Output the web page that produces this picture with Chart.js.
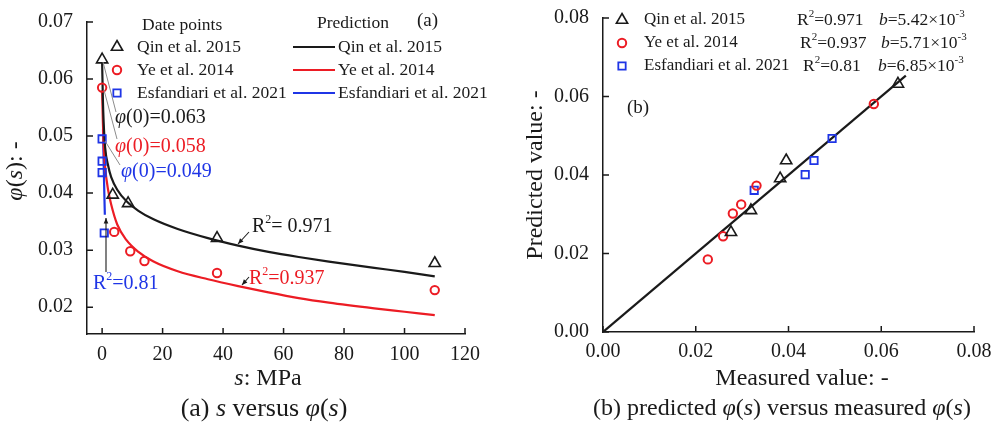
<!DOCTYPE html>
<html>
<head>
<meta charset="utf-8">
<script src="https://cdn.jsdelivr.net/npm/chart.js@4.4.1/dist/chart.umd.min.js"></script>
<style>
  html, body { margin: 0; padding: 0; background: #fff; }
  #wrap { position: relative; width: 992px; height: 423px; overflow: hidden; }
  canvas { position: absolute; top: 0; }
</style>
</head>
<body>
<div id="wrap">
  <canvas id="chartA" width="496" height="423" style="left:0"></canvas>
  <canvas id="chartB" width="496" height="423" style="left:496px"></canvas>
</div>
<script>
const SERIF = "'Liberation Serif', 'Times New Roman', serif";
const INK = "#1a1a1a";
const RED = "#ec1c24";
const BLUE = "#1f35e6";
const GRAY = "#8c8c8c";

const seriesNames = ["Qin et al. 2015", "Ye et al. 2014", "Esfandiari et al. 2021"];
const r2Labels = ["0.971", "0.937", "0.81"];
const bLabels = ["5.42", "5.71", "6.85"];

// (a) s versus phi(s)
const sTicks = [0, 20, 40, 60, 80, 100, 120];
const phiTicks = [0.02, 0.03, 0.04, 0.05, 0.06, 0.07];

const qinS = [0, 3.5, 8.6, 38, 110];
const qinPhi = [0.0634, 0.0397, 0.0382, 0.0321, 0.0277];
const yeS = [0, 4, 9.3, 14, 38, 110];
const yePhi = [0.0585, 0.0332, 0.0298, 0.0281, 0.026, 0.023];
const esS = [0, 0, 0, 0.7];
const esPhi = [0.0495, 0.0456, 0.0436, 0.033];

const predS = [0, 0.25, 0.5, 1, 2, 3, 5, 8, 12, 17, 25, 35, 45, 55, 65, 75, 90, 100, 110];
const qinPred = [0.063, 0.0565, 0.0525, 0.048, 0.0448, 0.0428, 0.0406, 0.0386, 0.0369, 0.0354, 0.0337, 0.0321, 0.0308, 0.0297, 0.0288, 0.028, 0.0269, 0.0262, 0.0254];
const yePred = [0.058, 0.0525, 0.0485, 0.0445, 0.0405, 0.038, 0.0345, 0.0318, 0.0297, 0.028, 0.0263, 0.0249, 0.0237, 0.0226, 0.0216, 0.0208, 0.0198, 0.0192, 0.0186];
const esPredS = [0.3, 0.45, 0.6, 0.75, 0.9];
const esPred = [0.0513, 0.047, 0.043, 0.0395, 0.0362];

// (b) predicted vs measured
const fracTicks = [0, 0.02, 0.04, 0.06, 0.08];
const qinMeas = [0.0636, 0.0395, 0.0382, 0.0319, 0.0276];
const qinPredB = [0.0632, 0.0437, 0.0391, 0.031, 0.0254];
const yeMeas = [0.0584, 0.0331, 0.0298, 0.028, 0.0259, 0.0226];
const yePredB = [0.0581, 0.0373, 0.0325, 0.0302, 0.0244, 0.0185];
const esMeas = [0.0494, 0.0455, 0.0436, 0.0326];
const esPredB = [0.0493, 0.0437, 0.0401, 0.0361];
const fitMeas = [0, 0.0653];
const fitPred = [0, 0.0653];

const pts = (xs, ys) => xs.map((x, i) => ({ x, y: ys[i] }));

const markerStyle = {
  triangle: { pointStyle: "triangle", pointRadius: 6.5, pointBorderColor: INK, pointBorderWidth: 1.6 },
  circle: { pointStyle: "circle", pointRadius: 4.2, pointBorderColor: RED, pointBorderWidth: 2 },
  rect: { pointStyle: "rect", pointRadius: 5.2, pointBorderColor: BLUE, pointBorderWidth: 1.8 },
};

function scatterSet(data, kind) {
  return { data, showLine: false, pointBackgroundColor: "rgba(0,0,0,0)", clip: false, ...markerStyle[kind] };
}

function lineSet(data, color) {
  return {
    data, showLine: true, pointRadius: 0, borderColor: color, borderWidth: 2.2,
    cubicInterpolationMode: "monotone", fill: false,
  };
}

function axisOptions(min, max, tickValues, decimals, padding, size) {
  return {
    type: "linear", min, max,
    grid: { display: false },
    border: { display: true, color: INK, width: 1.5 },
    ticks: {
      color: INK, padding, maxRotation: 0, autoSkip: false,
      font: { family: SERIF, size: 20 },
      callback: (v) => Number(v).toFixed(decimals),
    },
    afterBuildTicks: (scale) => { scale.ticks = tickValues.map((value) => ({ value })); },
    afterFit: (scale) => {
      if (scale.isHorizontal()) scale.height = size;
      else scale.width = size;
    },
  };
}

// text with italic / superscript runs
function drawRuns(ctx, parts, x, y, size, color, align = "left") {
  const fontFor = (st) => `${st === "i" ? "italic " : ""}${st === "sup" ? Math.round(size * 0.62) : size}px ${SERIF}`;
  let w = 0;
  parts.forEach(([t, st]) => { ctx.font = fontFor(st); w += ctx.measureText(t).width; });
  let cx = align === "center" ? x - w / 2 : x;
  ctx.fillStyle = color;
  ctx.textAlign = "left";
  ctx.textBaseline = "middle";
  parts.forEach(([t, st]) => {
    ctx.font = fontFor(st);
    ctx.fillText(t, cx, st === "sup" ? y - size * 0.36 : y);
    cx += ctx.measureText(t).width;
  });
}

function drawMarker(ctx, kind, x, y) {
  const st = markerStyle[kind];
  const r = st.pointRadius;
  ctx.save();
  ctx.beginPath();
  if (kind === "triangle") {
    ctx.moveTo(x, y - r);
    ctx.lineTo(x + r * 0.866, y + r / 2);
    ctx.lineTo(x - r * 0.866, y + r / 2);
    ctx.closePath();
  } else if (kind === "circle") {
    ctx.arc(x, y, r, 0, Math.PI * 2);
  } else {
    const h = r * Math.SQRT1_2;
    ctx.rect(x - h, y - h, 2 * h, 2 * h);
  }
  ctx.strokeStyle = st.pointBorderColor;
  ctx.lineWidth = st.pointBorderWidth;
  ctx.stroke();
  ctx.restore();
}

function line(ctx, x1, y1, x2, y2, color, width) {
  ctx.save();
  ctx.beginPath();
  ctx.moveTo(x1, y1);
  ctx.lineTo(x2, y2);
  ctx.strokeStyle = color;
  ctx.lineWidth = width;
  ctx.stroke();
  ctx.restore();
}

function arrow(ctx, x1, y1, x2, y2) {
  line(ctx, x1, y1, x2, y2, INK, 1.1);
  const a = Math.atan2(y2 - y1, x2 - x1);
  ctx.save();
  ctx.beginPath();
  ctx.moveTo(x2, y2);
  ctx.lineTo(x2 - 6 * Math.cos(a - 0.4), y2 - 6 * Math.sin(a - 0.4));
  ctx.lineTo(x2 - 6 * Math.cos(a + 0.4), y2 - 6 * Math.sin(a + 0.4));
  ctx.closePath();
  ctx.fillStyle = INK;
  ctx.fill();
  ctx.restore();
}

const innerTicks = {
  id: "innerTicks",
  afterDatasetsDraw(chart) {
    const { ctx, chartArea: a, scales: { x, y } } = chart;
    ctx.save();
    ctx.strokeStyle = INK;
    ctx.lineWidth = 1.5;
    ctx.beginPath();
    x.ticks.forEach((t) => { const px = x.getPixelForValue(t.value); ctx.moveTo(px, a.bottom); ctx.lineTo(px, a.bottom - 6); });
    y.ticks.forEach((t) => { const py = y.getPixelForValue(t.value); ctx.moveTo(a.left, py); ctx.lineTo(a.left + 6, py); });
    ctx.stroke();
    ctx.restore();
  },
};

const kinds = ["triangle", "circle", "rect"];
const lineColors = [INK, RED, BLUE];

const panelA = {
  id: "panelA",
  afterDraw(chart) {
    const ctx = chart.ctx;
    // legend
    drawRuns(ctx, [["Date points", ""]], 142, 25, 17.5, INK);
    drawRuns(ctx, [["Prediction", ""]], 317, 23, 17.5, INK);
    drawRuns(ctx, [["(a)", ""]], 417, 21, 19, INK);
    [47, 70, 93].forEach((ry, i) => {
      drawMarker(ctx, kinds[i], 117, ry);
      drawRuns(ctx, [[seriesNames[i], ""]], 137, ry, 17.5, INK);
      line(ctx, 293, ry, 335, ry, lineColors[i], 2.2);
      drawRuns(ctx, [[seriesNames[i], ""]], 338, ry, 17.5, INK);
    });
    // phi(0) leaders
    line(ctx, 103, 62, 116, 112, GRAY, 1);
    line(ctx, 104, 90, 117, 139, GRAY, 1);
    line(ctx, 105, 141, 120, 165, GRAY, 1);
    drawRuns(ctx, [["φ", "i"], ["(0)=0.063", ""]], 115, 118, 20, INK);
    drawRuns(ctx, [["φ", "i"], ["(0)=0.058", ""]], 115, 147, 20, RED);
    drawRuns(ctx, [["φ", "i"], ["(0)=0.049", ""]], 121, 172, 20, BLUE);
    // R2 notes
    arrow(ctx, 249, 232, 238, 244);
    drawRuns(ctx, [["R", ""], ["2", "sup"], ["= 0.971", ""]], 252, 227, 20, INK);
    arrow(ctx, 249, 277, 242, 285);
    drawRuns(ctx, [["R", ""], ["2", "sup"], ["=0.937", ""]], 249, 279, 20, RED);
    arrow(ctx, 106, 272, 106, 218);
    drawRuns(ctx, [["R", ""], ["2", "sup"], ["=0.81", ""]], 93, 284, 20, BLUE);
    // axis titles and caption
    ctx.save();
    ctx.translate(16, 171);
    ctx.rotate(-Math.PI / 2);
    drawRuns(ctx, [["φ", "i"], ["(", ""], ["s", "i"], ["): -", ""]], 0, 0, 24, INK, "center");
    ctx.restore();
    drawRuns(ctx, [["s", "i"], [": MPa", ""]], 268, 379, 24, INK, "center");
    drawRuns(ctx, [["(a) ", ""], ["s", "i"], [" versus ", ""], ["φ", "i"], ["(", ""], ["s", "i"], [")", ""]], 264, 409, 26, INK, "center");
  },
};

const panelB = {
  id: "panelB",
  afterDraw(chart) {
    const ctx = chart.ctx;
    const r2x = [301, 304, 307];
    const bx = [383, 385, 382];
    [20, 43, 66].forEach((ry, i) => {
      drawMarker(ctx, kinds[i], 126, ry);
      drawRuns(ctx, [[seriesNames[i], ""]], 148, ry, 17, INK);
      drawRuns(ctx, [["R", ""], ["2", "sup"], ["=" + r2Labels[i], ""]], r2x[i], ry, 17.5, INK);
      drawRuns(ctx, [["b", "i"], ["=" + bLabels[i] + "×10", ""], ["-3", "sup"]], bx[i], ry, 17.5, INK);
    });
    drawRuns(ctx, [["(b)", ""]], 131, 108, 19, INK);
    ctx.save();
    ctx.translate(40, 175);
    ctx.rotate(-Math.PI / 2);
    drawRuns(ctx, [["Predicted value: -", ""]], 0, 0, 24, INK, "center");
    ctx.restore();
    drawRuns(ctx, [["Measured value: -", ""]], 306, 379, 24, INK, "center");
    drawRuns(ctx, [["(b) predicted ", ""], ["φ", "i"], ["(", ""], ["s", "i"], [") versus measured ", ""], ["φ", "i"], ["(", ""], ["s", "i"], [")", ""]], 286, 409, 24, INK, "center");
  },
};

const common = {
  responsive: false,
  animation: false,
  devicePixelRatio: 1,
  events: [],
  plugins: { legend: { display: false }, tooltip: { enabled: false } },
};

new Chart(document.getElementById("chartA"), {
  type: "scatter",
  data: {
    datasets: [
      scatterSet(pts(qinS, qinPhi), "triangle"),
      scatterSet(pts(yeS, yePhi), "circle"),
      scatterSet(pts(esS, esPhi), "rect"),
      lineSet(pts(predS, qinPred), INK),
      lineSet(pts(predS, yePred), RED),
      lineSet(pts(esPredS, esPred), BLUE),
    ],
  },
  options: {
    ...common,
    layout: { padding: { left: 0, top: 22, right: 31, bottom: 49 } },
    scales: {
      x: axisOptions(-5, 120, sTicks, 0, 1, 40),
      y: axisOptions(0.0153, 0.07, phiTicks, 2, 6, 87),
    },
  },
  plugins: [innerTicks, panelA],
});

new Chart(document.getElementById("chartB"), {
  type: "scatter",
  data: {
    datasets: [
      scatterSet(pts(qinMeas, qinPredB), "triangle"),
      scatterSet(pts(yeMeas, yePredB), "circle"),
      scatterSet(pts(esMeas, esPredB), "rect"),
      lineSet(pts(fitMeas, fitPred), INK),
    ],
  },
  options: {
    ...common,
    layout: { padding: { left: 0, top: 17, right: 18, bottom: 51 } },
    scales: {
      x: axisOptions(0, 0.08, fracTicks, 2, 0, 40),
      y: axisOptions(0, 0.08, fracTicks, 2, 6, 107),
    },
  },
  plugins: [innerTicks, panelB],
});
</script>
</body>
</html>
